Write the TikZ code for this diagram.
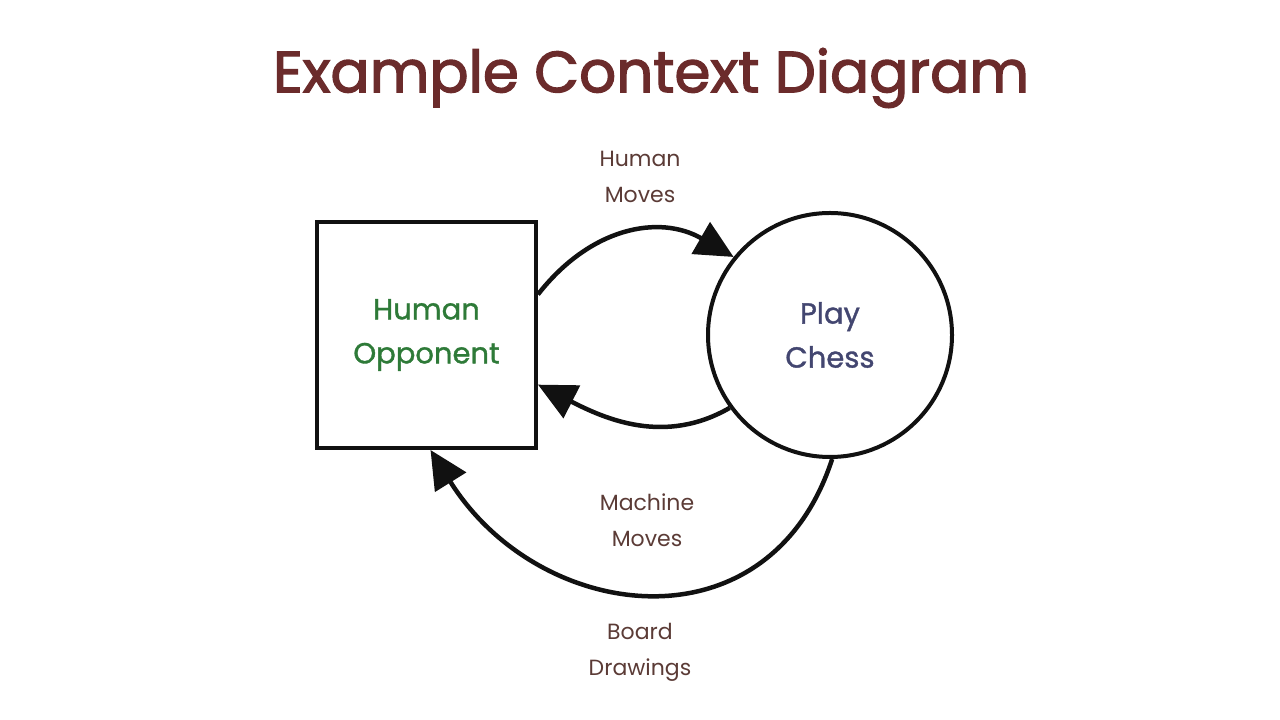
\documentclass[tikz,border=0pt]{standalone}
\usepackage{fontspec}
\setmainfont{Poppins}
\newfontfamily\thickfont[FakeBold=1.2]{Poppins}
\newfontfamily\titlefont[FakeBold=2.2]{Poppins}
\usepackage{xcolor}
\definecolor{ink}{HTML}{111111}
\definecolor{heading}{HTML}{6B2B2B}
\definecolor{actor}{HTML}{2E7A38}
\definecolor{process}{HTML}{434670}
\definecolor{flowtext}{HTML}{5B3B36}
\usepackage{tikz}
\usetikzlibrary{arrows.meta, positioning}
\tikzset{
  >={Triangle[length=38pt, width=36pt]},
  entity/.style={draw=ink, line width=4pt, minimum width=219pt, minimum height=226pt, inner sep=0pt,
    align=center, font=\thickfont\fontsize{29}{44}\selectfont, text=actor},
  proc/.style={circle, draw=ink, line width=4pt, minimum size=244pt, inner sep=0pt,
    align=center, font=\thickfont\fontsize{29}{44}\selectfont, text=process},
  flow/.style={->, line width=4.5pt, color=ink},
  tag/.style={font=\fontsize{22}{36}\selectfont, text=flowtext, align=center},
}

\begin{document}
\begin{tikzpicture}[x=1pt, y=1pt,
    heading/.style={font=\titlefont\fontsize{58}{64}\selectfont, text=heading}]

  \useasboundingbox (0,0) rectangle (1280,720);

  \node[heading] (title) at (651,642) {Example Context Diagram};

  % The outside actor and the one process.
  \node[entity] (opp) at (426.5,385) {Human\\Opponent};
  \node[proc] (chess) at (830,385) {Play\\Chess};

  % Data flows between them.
  \draw[flow] (opp.20) to[out=52, in=150, looseness=1.1] (chess.141);
  \draw[flow] (chess.216) to[out=-150, in=-27] (opp.-24);
  \draw[flow] (chess.-89) to[out=-108, in=-58, looseness=1.3] (opp.-88);

  \node[tag] (hmoves) at (640,543) {Human\\Moves};
  \node[tag] (mmoves) at (647,200) {Machine\\Moves};
  \node[tag] (board) at (640,68) {Board\\Drawings};
\end{tikzpicture}
\end{document}
